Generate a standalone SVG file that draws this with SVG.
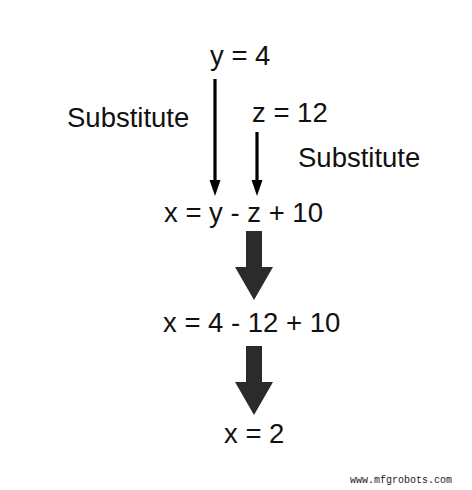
<svg xmlns="http://www.w3.org/2000/svg" width="472" height="490" viewBox="0 0 472 490">
<style>
.t{font-family:"Liberation Sans",Arial,Helvetica,sans-serif;font-size:27.5px;fill:#111}
.thin{stroke:#000;stroke-width:3.2;fill:none}
.head{fill:#000}
.big{fill:#2b2b2b}
.wm{font-family:"Liberation Mono","Courier New",monospace;font-size:10px;fill:#222}
</style>
<rect width="472" height="490" fill="#fff"/>
<g id="connectors">
<line class="thin" x1="215" y1="79" x2="215" y2="182"/>
<polygon class="head" points="209.5,180 220.5,180 215,196"/>
<line class="thin" x1="257" y1="132" x2="257" y2="182"/>
<polygon class="head" points="251.5,180 262.5,180 257,196"/>
<polygon class="big" points="246,231 262,231 262,267 273,267 254,300 235,267 246,267"/>
<polygon class="big" points="246,346 262,346 262,382 273,382 254,415 235,382 246,382"/>
</g>
<g id="y4"><text class="t" x="210" y="65">y = 4</text></g>
<g id="sub1"><text class="t" x="67" y="127">Substitute</text></g>
<g id="z12"><text class="t" x="252" y="122">z = 12</text></g>
<g id="sub2"><text class="t" x="298" y="167">Substitute</text></g>
<g id="expr1"><text class="t" x="164" y="222">x = y - z + 10</text></g>
<g id="expr2"><text class="t" x="163" y="332">x = 4 - 12 + 10</text></g>
<g id="expr3"><text class="t" x="224" y="443">x = 2</text></g>
<text class="wm" x="350" y="483">www.mfgrobots.com</text>
</svg>
